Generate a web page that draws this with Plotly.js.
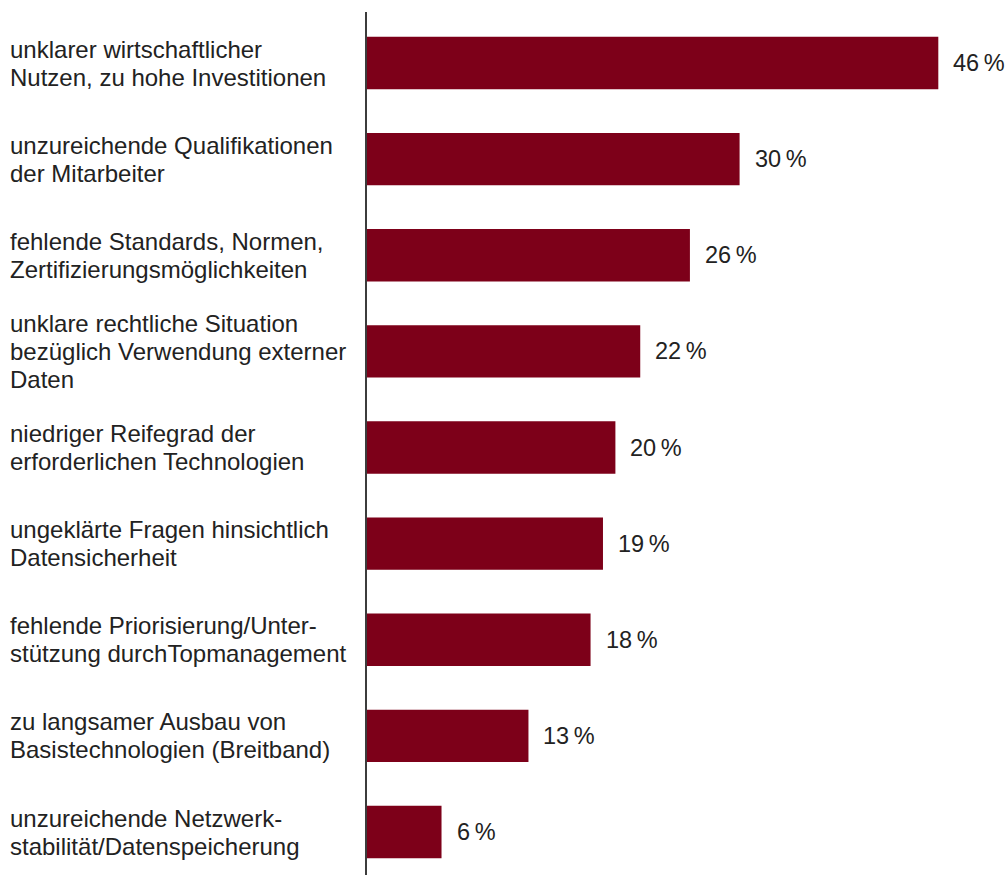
<!DOCTYPE html>
<html>
<head>
<meta charset="utf-8">
<script src="https://cdn.plot.ly/plotly-3.0.1.min.js"></script>
<style>html,body{margin:0;padding:0;background:#fff;}#chart{width:1006px;height:875px;}</style>
</head>
<body>
<div id="chart"></div>
<script>
const categories = [
  "unklarer wirtschaftlicher<br>Nutzen, zu hohe Investitionen",
  "unzureichende Qualifikationen<br>der Mitarbeiter",
  "fehlende Standards, Normen,<br>Zertifizierungsmöglichkeiten",
  "unklare rechtliche Situation<br>bezüglich Verwendung externer<br>Daten",
  "niedriger Reifegrad der<br>erforderlichen Technologien",
  "ungeklärte Fragen hinsichtlich<br>Datensicherheit",
  "fehlende Priorisierung/Unter-<br>stützung durchTopmanagement",
  "zu langsamer Ausbau von<br>Basistechnologien (Breitband)",
  "unzureichende Netzwerk-<br>stabilität/Datenspeicherung"
];
const values = [46, 30, 26, 22, 20, 19, 18, 13, 6];
const valueLabels = values.map(v => v + "\u2009%");

const pos = categories.map((c, i) => i);
const font = {family: "Liberation Sans, Arial, Helvetica, sans-serif", size: 24, color: "#222222"};
const valFont = {family: "Liberation Sans, Arial, Helvetica, sans-serif", size: 23.5, color: "#222222"};
const lineGap = 28;

const annotations = [];
categories.forEach((c, i) => {
  const lines = c.split("<br>");
  const n = lines.length;
  lines.forEach((ln, k) => {
    annotations.push({
      xref: "paper", yref: "y", x: -0.5615, y: pos[i],
      xanchor: "left", yanchor: "middle", align: "left",
      yshift: -(k - (n - 1) / 2) * lineGap,
      text: ln, showarrow: false, font: font
    });
  });
  annotations.push({
    xref: "x", yref: "y", x: values[i], y: pos[i],
    xanchor: "left", yanchor: "middle", xshift: 13,
    text: valueLabels[i], showarrow: false, font: valFont
  });
});

const data = [{
  type: "bar", orientation: "h",
  x: values, y: pos,
  width: 0.545,
  marker: {color: "#7d0019", line: {width: 0}},
  hoverinfo: "none"
}];

const layout = {
  width: 1006, height: 875,
  margin: {l: 367, r: 0, t: 12, b: 0, pad: 0},
  paper_bgcolor: "#ffffff", plot_bgcolor: "#ffffff",
  showlegend: false,
  font: font,
  xaxis: {range: [0, 51.45], showgrid: false, zeroline: false, showline: false, showticklabels: false, ticks: ""},
  yaxis: {range: [8.447, -0.531], showgrid: false, zeroline: false, showline: true, linecolor: "#3c3c3c", linewidth: 2, showticklabels: false, ticks: ""},
  annotations: annotations
};

Plotly.newPlot("chart", data, layout, {staticPlot: true});
</script>
</body>
</html>
